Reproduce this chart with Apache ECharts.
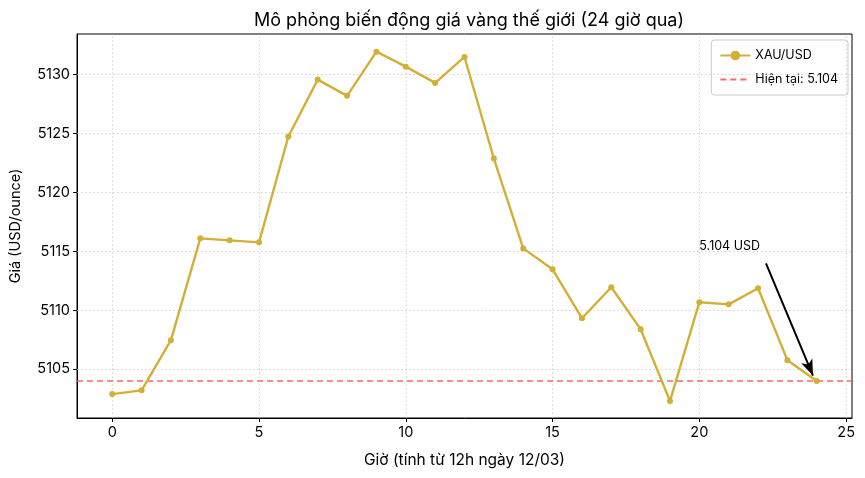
<!DOCTYPE html>
<html>
<head>
<meta charset="utf-8">
<script src="https://cdn.jsdelivr.net/npm/echarts@6/dist/echarts.min.js"></script>
<style>
  html, body { margin: 0; padding: 0; background: #fff; }
  #chart { width: 865px; height: 478px; }
</style>
</head>
<body>
<div id="chart"></div>
<script>
  // gia vang theo gio
  const hours = [0, 1, 2, 3, 4, 5, 6, 7, 8, 9, 10, 11, 12, 13, 14, 15, 16, 17, 18, 19, 20, 21, 22, 23, 24];
  const prices = [5102.88, 5103.2, 5107.46, 5116.1, 5115.93, 5115.76, 5124.75, 5129.58, 5128.2, 5131.95,
    5130.68, 5129.3, 5131.5, 5122.88, 5115.25, 5113.47, 5109.32, 5111.95, 5108.39, 5102.29,
    5110.68, 5110.5, 5111.86, 5105.76, 5104.0];
  const currentPrice = 5104;
  const xTicks = [0, 5, 10, 15, 20, 25];
  const yTicks = [5105, 5110, 5115, 5120, 5125, 5130];
  const noteText = '5.104 USD';
  const notePos = [20, 5115.4];
  const arrowFrom = [22.27, 5113.98];
  const arrowTo = [23.87, 5104.45];

  const font = 'Inter, "Noto Sans", sans-serif';
  const gold = '#D4AF37';

  const chart = echarts.init(document.getElementById('chart'), null, { renderer: 'canvas' });

  const gridLines = [];
  xTicks.forEach(function (v) { gridLines.push({ xAxis: v }); });
  yTicks.forEach(function (v) { gridLines.push({ yAxis: v }); });

  const option = {
    backgroundColor: '#fff',
    animation: false,
    title: {
      text: 'Mô phỏng biến động giá vàng thế giới (24 giờ qua)',
      left: 464, top: 7, textAlign: 'center',
      textStyle: { fontFamily: font, fontSize: 18, fontWeight: 'normal', color: '#000' }
    },
    legend: {
      orient: 'vertical',
      right: 17, top: 40,
      padding: [9, 10, 9, 8],
      itemGap: 11,
      itemWidth: 30, itemHeight: 12,
      borderColor: '#ccc', borderWidth: 1, borderRadius: 3,
      backgroundColor: '#fff',
      textStyle: { fontFamily: font, fontSize: 12.5, color: '#000' },
      data: [
        { name: 'XAU/USD' },
        { name: 'Hiện tại: 5.104', itemStyle: { opacity: 0 } }
      ]
    },
    grid: {
      left: 77, right: 13, top: 34, bottom: 60,
      show: true, borderColor: '#000', borderWidth: 1, backgroundColor: 'transparent'
    },
    xAxis: {
      type: 'value', min: -1.2, max: 25.2,
      name: 'Giờ (tính từ 12h ngày 12/03)',
      nameLocation: 'middle', nameGap: 34,
      nameTextStyle: { fontFamily: font, fontSize: 15.5, color: '#000' },
      axisLine: { show: true, onZero: false, lineStyle: { color: '#000' } },
      axisTick: { show: true, length: 4, lineStyle: { color: '#000' }, customValues: xTicks },
      axisLabel: { fontFamily: font, fontSize: 14.5, color: '#000', margin: 7, customValues: xTicks },
      splitLine: { show: false }
    },
    yAxis: {
      type: 'value', min: 5100.85, max: 5133.45,
      name: 'Giá (USD/ounce)',
      nameLocation: 'middle', nameGap: 54,
      nameTextStyle: { fontFamily: font, fontSize: 14.5, color: '#000' },
      axisLine: { show: true, onZero: false, lineStyle: { color: '#000' } },
      axisTick: { show: true, length: 4, lineStyle: { color: '#000' }, customValues: yTicks },
      axisLabel: {
        fontFamily: font, fontSize: 14.5, color: '#000', margin: 7, customValues: yTicks,
        formatter: function (v) { return String(v); }
      },
      splitLine: { show: false }
    },
    series: [
      {
        name: 'grid',
        type: 'line',
        data: [],
        silent: true,
        markLine: {
          silent: true,
          symbol: ['none', 'none'],
          label: { show: false },
          lineStyle: { color: '#c8c8c8', type: [1.5, 2.5], width: 0.8 },
          data: gridLines
        }
      },
      {
        name: 'Hiện tại: 5.104',
        type: 'line',
        data: [],
        symbol: 'none',
        showSymbol: false,
        color: '#FF5555',
        lineStyle: { color: '#FF5555', type: [6, 4], width: 1.6, opacity: 0.9 },
        itemStyle: { color: '#FF5555' },
        markLine: {
          silent: true,
          symbol: ['none', 'none'],
          label: { show: false },
          lineStyle: { color: '#FF5555', type: [6, 4], width: 1.6, opacity: 0.9 },
          data: [{ yAxis: currentPrice }]
        }
      },
      {
        name: 'XAU/USD',
        type: 'line',
        data: hours.map(function (h, i) { return [h, prices[i]]; }),
        color: gold,
        symbol: 'circle',
        symbolSize: 6,
        lineStyle: { color: gold, width: 2.4 },
        itemStyle: { color: gold },
        z: 5
      },
      {
        name: 'note',
        type: 'line',
        data: [],
        markLine: {
          silent: true,
          symbol: ['none', 'arrow'],
          symbolSize: [9, 16],
          label: { show: false },
          lineStyle: { color: '#000', type: 'solid', width: 2 },
          data: [[{ coord: arrowFrom }, { coord: arrowTo }]]
        },
        markPoint: {
          silent: true,
          symbol: 'circle', symbolSize: 0,
          label: {
            show: true, position: 'right', distance: 0,
            formatter: noteText,
            fontFamily: font, fontSize: 12.5, color: '#000'
          },
          data: [{ coord: notePos }]
        },
        z: 6
      }
    ]
  };

  chart.setOption(option);
</script>
</body>
</html>
